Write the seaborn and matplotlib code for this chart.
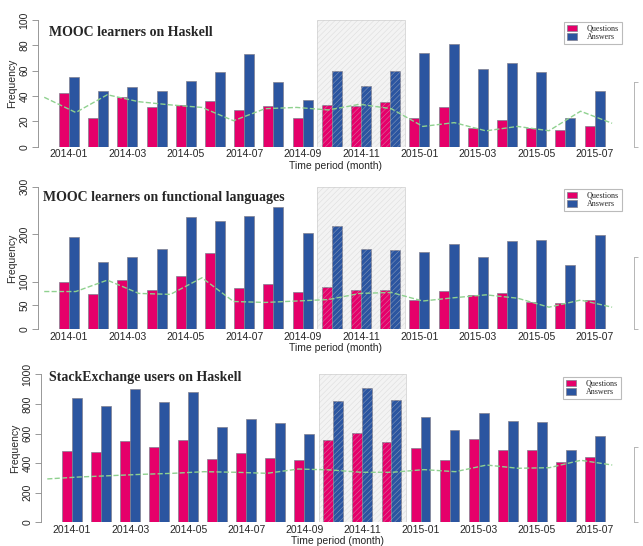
import numpy as np
import pandas as pd
import matplotlib
matplotlib.use("Agg")
import matplotlib.pyplot as plt
import seaborn as sns

months = ["2014-01", "2014-02", "2014-03", "2014-04", "2014-05", "2014-06",
          "2014-07", "2014-08", "2014-09", "2014-10", "2014-11", "2014-12",
          "2015-01", "2015-02", "2015-03", "2015-04", "2015-05", "2015-06",
          "2015-07"]

# MOOC learners on Haskell
mh_questions = [42, 23, 39, 31, 33, 36, 29, 32, 23, 33, 32, 35, 23, 31, 15, 21, 15, 13, 16]
mh_answers = [55, 44, 47, 44, 52, 59, 73, 51, 37, 60, 48, 60, 74, 81, 61, 66, 59, 23, 44]
mh_ratio = [39, 27, 41, 35.5, 33, 31, 20.5, 30, 31, 29, 33.5, 30, 16, 19, 12.5, 16, 12.6, 28, 18.5]

# MOOC learners on functional languages
fl_questions = [100, 73, 103, 83, 111, 161, 86, 95, 79, 89, 83, 82, 62, 80, 72, 75, 56, 55, 61]
fl_answers = [194, 141, 152, 168, 237, 228, 239, 258, 202, 218, 168, 166, 162, 180, 151, 185, 187, 135, 199]
fl_ratio = [79, 79, 103, 75, 73, 108, 58, 56, 59, 62, 75, 77, 59, 66, 72, 65, 46, 61, 46]

# StackExchange users on Haskell
se_questions = [484, 477, 552, 507, 556, 426, 471, 435, 423, 559, 601, 545, 505, 421, 565, 491, 486, 405, 439]
se_answers = [838, 788, 903, 811, 880, 642, 696, 673, 595, 818, 910, 824, 712, 622, 736, 685, 680, 486, 581]
se_ratio = [293, 306, 315, 324, 331, 342, 338, 331, 360, 354, 338, 338, 356, 342, 387, 365, 369, 419, 387]

series_names = ["Questions", "Answers"]
colors = ["#e5006a", "#2b55a0"]

sns.set_style("white")
plt.rcParams["font.family"] = ["Liberation Sans", "DejaVu Sans"]
plt.rcParams["hatch.linewidth"] = 0.4

W, H = 643, 546
fig = plt.figure(figsize=(W / 100, H / 100), dpi=100)

# title, questions, answers, ratio, ymax, yticks, right bracket top,
# axes (left, top, right, bottom) px, title xy px, legend anchor px
panels = [
    ("MOOC learners on Haskell", mh_questions, mh_answers, mh_ratio, 100,
     [0, 20, 40, 60, 80, 100], 51, (37.8, 20, 634, 146.7), (49, 33), (622, 22)),
    ("MOOC learners on functional languages", fl_questions, fl_answers, fl_ratio, 300,
     [0, 50, 100, 200, 300], 152, (37.8, 186.7, 634, 329), (43, 197), (622, 189)),
    ("StackExchange users on Haskell", se_questions, se_answers, se_ratio, 1000,
     [0, 200, 400, 600, 800, 1000], 507, (40.9, 374.3, 634, 522.3), (49, 378), (621, 377)),
]

line_x = np.linspace(-0.85, 18.6, len(months))

for title, q, a, ratio, ymax, yticks, rtop, box, tpos, lpos in panels:
    l, t, r, b = box
    ax = fig.add_axes([l / W, 1 - b / H, (r - l) / W, (b - t) / H])
    df = pd.DataFrame({
        "month": months * 2,
        "type": ["Questions"] * len(months) + ["Answers"] * len(months),
        "freq": q + a,
    })
    sns.barplot(data=df, x="month", y="freq", hue="type", hue_order=series_names,
                palette=colors, width=0.684, saturation=1, edgecolor="#80808f",
                linewidth=0.5, ax=ax)

    # shaded period: light fill behind the bars, fine hatching over them
    ax.axvspan(8.5, 11.5, facecolor="#f3f3f3", edgecolor="#d5d5d5",
               linewidth=0.6, zorder=0)
    ax.axvspan(8.5, 11.5, facecolor="none", hatch="//////",
               edgecolor=(0.8, 0.8, 0.8, 0.55), linewidth=0, zorder=3)

    ax.plot(line_x, ratio, color="#8fd18f", linestyle="--", linewidth=1, zorder=4)

    ax.set_xlim(-1.07, 19.35)
    ax.set_ylim(0, ymax)
    ax.set_xticks(range(0, len(months), 2))
    ax.set_xticklabels(months[::2])
    ax.set_yticks(yticks)
    ax.tick_params(axis="x", length=0, pad=2, labelsize=7.5)
    ax.tick_params(axis="y", length=4, width=0.6, color="#888888", labelsize=7.5,
                   labelrotation=90, pad=2)
    for lab in ax.get_yticklabels():
        lab.set_va("center")
    sns.despine(ax=ax, bottom=True)
    ax.spines["left"].set_color("#888888")
    ax.spines["left"].set_linewidth(0.6)
    ax.set_xlabel("Time period (month)", fontsize=7.5, labelpad=1)
    ax.set_ylabel("Frequency", fontsize=7.5, labelpad=2)

    handles, labels = ax.get_legend_handles_labels()
    ax.legend(handles, labels, loc="upper right",
              bbox_to_anchor=(lpos[0] / W, 1 - lpos[1] / H),
              bbox_transform=fig.transFigure, borderaxespad=0,
              prop={"family": "Liberation Serif", "size": 5.8},
              frameon=True, fancybox=False, edgecolor="#aaaaaa",
              handlelength=1.3, handleheight=0.8, labelspacing=0.05,
              borderpad=0.35, handletextpad=1.2)
    ax.get_legend().get_frame().set_linewidth(0.8)

    fig.text(tpos[0] / W, 1 - tpos[1] / H, title, va="center", ha="left",
             family="Liberation Serif", fontweight="bold", fontsize=10)

    # secondary axis bracket on the right edge
    ax2 = ax.twinx()
    ax2.set_ylim(0, ymax)
    for s in ["top", "left", "bottom"]:
        ax2.spines[s].set_visible(False)
    ax2.spines["right"].set_bounds(0, rtop)
    ax2.spines["right"].set_color("#aaaaaa")
    ax2.spines["right"].set_linewidth(0.6)
    ax2.set_yticks([0, rtop])
    ax2.set_yticklabels([])
    ax2.tick_params(axis="y", length=3, width=0.6, color="#aaaaaa")

fig.savefig("out.png", dpi=100)
